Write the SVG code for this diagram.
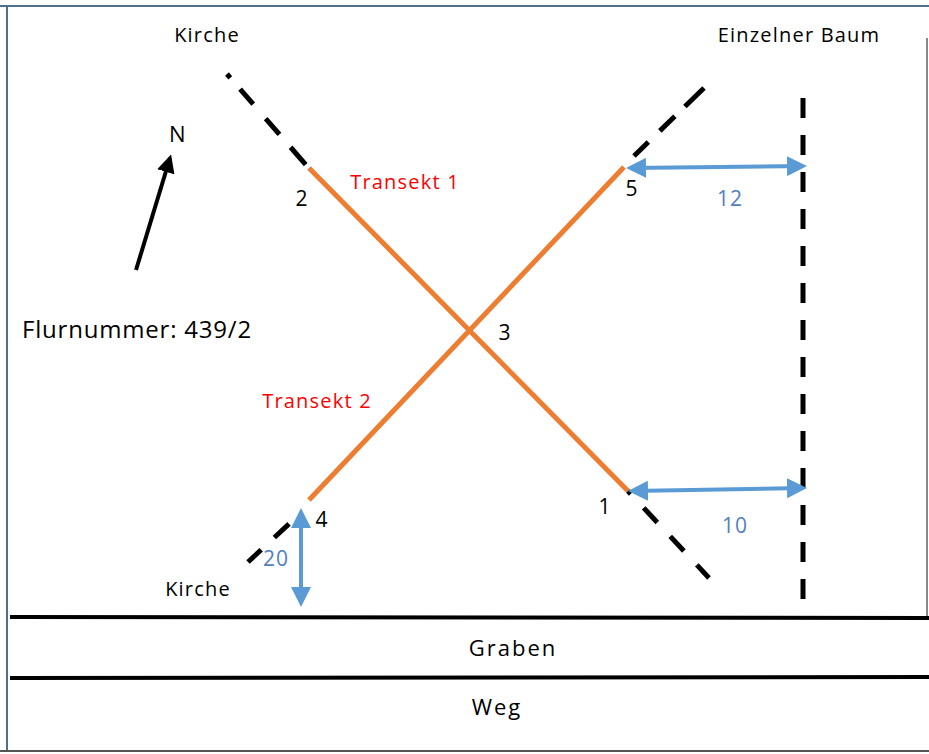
<svg xmlns="http://www.w3.org/2000/svg" width="929" height="754" viewBox="0 0 929 754">
<style>
.t{font-family:"Open Sans","Liberation Sans",sans-serif;font-size:20px;letter-spacing:1.2px;fill:#000}
.n{font-size:21px;letter-spacing:1px}
.red{fill:#ff0000}
.blue{fill:#4f81bd}
.dash{stroke:#000;stroke-width:5;fill:none}
.or{stroke:#ed7d31;stroke-width:5;fill:none}
.ar{stroke:#5b9bd5;stroke-width:4;fill:none;marker-start:url(#ah);marker-end:url(#ah)}
</style>
<defs>
<marker id="ah" viewBox="0 0 10 10" refX="8" refY="5" markerWidth="5" markerHeight="5" orient="auto-start-reverse" markerUnits="strokeWidth">
<path d="M0,0 L10,5 L0,10 z" fill="#5b9bd5"/>
</marker>
<marker id="nh" viewBox="0 0 10 10" refX="8" refY="5" markerWidth="4.5" markerHeight="4.5" orient="auto" markerUnits="strokeWidth">
<path d="M0,0 L10,5 L0,10 z" fill="#000"/>
</marker>
</defs>
<rect width="929" height="754" fill="#fff"/>
<g id="frame">
<line x1="0" y1="6" x2="929" y2="6" stroke="#4f6f8f" stroke-width="2"/>
<line x1="7" y1="6" x2="7" y2="751" stroke="#4f6f8f" stroke-width="2"/>
<line x1="0" y1="751" x2="929" y2="751" stroke="#555" stroke-width="2"/>
<line x1="927" y1="38" x2="927" y2="617" stroke="#888" stroke-width="2"/>
</g>
<g id="connectors">
<line class="dash" x1="227" y1="74" x2="306" y2="165" stroke-dasharray="5,15,20,19,21,17,23,100"/>
<line class="or" x1="309" y1="168" x2="628" y2="491"/>
<line class="dash" x1="628" y1="491" x2="709" y2="578" stroke-dasharray="4,19,20,19,20,19,19,100"/>
<line class="or" x1="309" y1="500" x2="624" y2="167"/>
<line class="dash" x1="634" y1="156" x2="704" y2="88" stroke-dasharray="20,16,21,14,27,100"/>
<line class="dash" x1="248" y1="562" x2="290" y2="523" stroke-dasharray="18,18,20,100"/>
<line class="dash" x1="803" y1="98" x2="803" y2="604" stroke-dasharray="20,17"/>
<line class="ar" x1="630" y1="168" x2="803" y2="166"/>
<line class="ar" x1="632" y1="491" x2="803" y2="488"/>
<line class="ar" x1="301" y1="512" x2="301" y2="603"/>
<line x1="136" y1="270" x2="170" y2="158" stroke="#000" stroke-width="4" marker-end="url(#nh)"/>
<line x1="10" y1="617" x2="929" y2="618" stroke="#000" stroke-width="4"/>
<line x1="10" y1="678" x2="929" y2="677" stroke="#000" stroke-width="4"/>
</g>
<g id="labels">
<text class="t" x="207" y="42" text-anchor="middle">Kirche</text>
<text class="t" x="799" y="42" text-anchor="middle">Einzelner Baum</text>
<text class="t" x="178" y="142" text-anchor="middle" style="font-size:22px">N</text>
<text class="t red" x="405" y="189" text-anchor="middle">Transekt 1</text>
<text class="t n" x="302" y="206" text-anchor="middle">2</text>
<text class="t n" x="632" y="196" text-anchor="middle">5</text>
<text class="t n blue" x="730" y="206" text-anchor="middle">12</text>
<text class="t n" x="505" y="340" text-anchor="middle">3</text>
<text class="t" x="22" y="338" style="font-size:24px;letter-spacing:0.8px">Flurnummer: 439/2</text>
<text class="t red" x="317" y="408" text-anchor="middle">Transekt 2</text>
<text class="t n" x="322" y="527" text-anchor="middle">4</text>
<text class="t n" x="605" y="514" text-anchor="middle">1</text>
<text class="t n blue" x="735" y="533" text-anchor="middle">10</text>
<text class="t n blue" x="276" y="566" text-anchor="middle">20</text>
<text class="t" x="198" y="596" text-anchor="middle">Kirche</text>
<text class="t" x="513" y="656" text-anchor="middle" style="font-size:22px;letter-spacing:2px">Graben</text>
<text class="t" x="497" y="715" text-anchor="middle" style="font-size:22px;letter-spacing:2px">Weg</text>
</g>
</svg>
